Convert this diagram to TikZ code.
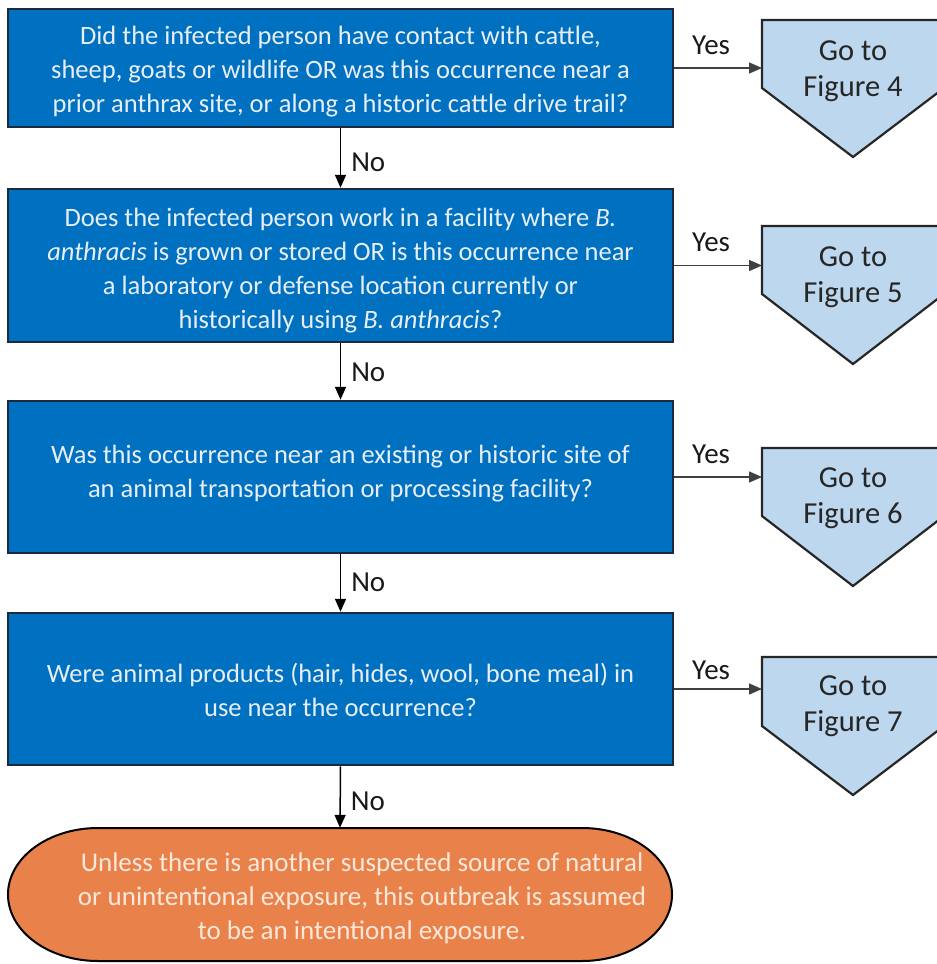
\documentclass[tikz,border=0pt]{standalone}
\usepackage{fontspec}
\setmainfont{Carlito}
\usetikzlibrary{arrows.meta,calc}
\definecolor{qblue}{HTML}{0070C0}
\definecolor{qborder}{HTML}{1B2A3C}
\definecolor{qtext}{HTML}{E8EEF6}
\definecolor{pblue}{HTML}{BDD7EE}
\definecolor{ptext}{HTML}{262626}
\definecolor{oorange}{HTML}{E9824A}
\definecolor{otext}{HTML}{FCE8DA}
\begin{document}
\begin{tikzpicture}[x=1pt,y=-1pt,
  qbox/.style={draw=qborder, line width=2.5pt, fill=qblue, minimum width=665pt,
    text=qtext, align=center, font=\fontsize{26.5}{34}\selectfont, inner sep=0pt},
  ptxt/.style={text=ptext, align=center, font=\fontsize{30.5}{36}\selectfont, inner sep=0pt},
  pshape/.style={draw=black!85, line width=2.2pt, fill=pblue, line join=miter},
  otxt/.style={text=otext, align=center, font=\fontsize{27}{34}\selectfont, inner sep=0pt},
  oshape/.style={draw=black, line width=2pt, fill=oorange},
  arr/.style={-{Triangle[length=13pt,width=11pt]}, line width=1.5pt, draw=black},
  yarr/.style={-{Triangle[length=13pt,width=11pt]}, line width=1.5pt, draw=black!75},
  lbl/.style={font=\fontsize{29}{32}\selectfont, text=black!90, inner sep=0pt}
]
\useasboundingbox (0,0) rectangle (937,964);
\clip (0,0) rectangle (937,964);

% decision boxes
\node[qbox, minimum height=118pt] (b1) at (340.5,68) {};
\node[qbox, minimum height=153pt] (b2) at (340.5,265.5) {};
\node[qbox, minimum height=152pt] (b3) at (340.5,477) {};
\node[qbox, minimum height=152pt] (b4) at (340.5,689) {};
\node[qbox, draw=none, fill=none] (t1) at ($(b1.center)+(0,4)$)
  {Did the infected person have contact with cattle,\\
   sheep, goats or wildlife OR was this occurrence near a\\
   prior anthrax site, or along a historic cattle drive trail?};
\node[qbox, draw=none, fill=none] (t2) at ($(b2.center)+(0,5)$)
  {Does the infected person work in a facility where \textit{B.}\\
   \textit{anthracis} is grown or stored OR is this occurrence near\\
   a laboratory or defense location currently or\\
   historically using \textit{B. anthracis}?};
\node[qbox, draw=none, fill=none] (t3) at ($(b3.center)+(0,-3)$)
  {Was this occurrence near an existing or historic site of\\
   an animal transportation or processing facility?};
\node[qbox, draw=none, fill=none] (t4) at ($(b4.center)+(0,1)$)
  {Were animal products (hair, hides, wool, bone meal) in\\
   use near the occurrence?};

% terminal oval
\draw[oshape] (98,828) -- (582,828)
  arc[start angle=-90, end angle=90, x radius=90, y radius=66.5]
  -- (98,961)
  arc[start angle=90, end angle=270, x radius=90, y radius=66.5] -- cycle;
\node[minimum width=664pt, minimum height=133pt, inner sep=0pt] (end) at (340,894.5) {};
\node[otxt] (endtxt) at (362,898)
  {Unless there is another suspected source of natural\\
   or unintentional exposure, this outbreak is assumed\\
   to be an intentional exposure.};

% off-page pentagons
\draw[pshape] (762,20) -- (944,20) -- (944,88) -- (853,157) -- (762,88) -- cycle;
\draw[pshape] (762,226) -- (944,226) -- (944,294) -- (853,364) -- (762,294) -- cycle;
\draw[pshape] (762,448) -- (944,448) -- (944,516) -- (853,586) -- (762,516) -- cycle;
\draw[pshape] (762,657) -- (944,657) -- (944,726) -- (853,795) -- (762,726) -- cycle;
\coordinate (p1) at (762,88);
\coordinate (p2) at (762,294);
\coordinate (p3) at (762,516);
\coordinate (p4) at (762,726);
\node[ptxt] (f1) at (853,71) {Go to\\Figure 4};
\node[ptxt] (f2) at (853,277) {Go to\\Figure 5};
\node[ptxt] (f3) at (853,498) {Go to\\Figure 6};
\node[ptxt] (f4) at (853,706) {Go to\\Figure 7};

% Yes connectors
\draw[yarr] (b1.east) -- (b1.east -| p1) node[lbl, pos=0.42, above=13pt] {Yes};
\draw[yarr] (b2.east) -- (b2.east -| p2) node[lbl, pos=0.42, above=13pt] {Yes};
\draw[yarr] (b3.east) -- (b3.east -| p3) node[lbl, pos=0.42, above=13pt] {Yes};
\draw[yarr] (b4.east) -- (b4.east -| p4) node[lbl, pos=0.42, above=9pt] {Yes};

% No connectors
\draw[arr] (b1.south) -- (b2.north) node[lbl, pos=0.58, right=10pt] {No};
\draw[arr] (b2.south) -- (b3.north) node[lbl, pos=0.52, right=10pt] {No};
\draw[arr] (b3.south) -- (b4.north) node[lbl, pos=0.48, right=10pt] {No};
\draw[arr] (b4.south) -- (end.north) node[lbl, pos=0.57, right=10pt] {No};
\end{tikzpicture}
\end{document}
